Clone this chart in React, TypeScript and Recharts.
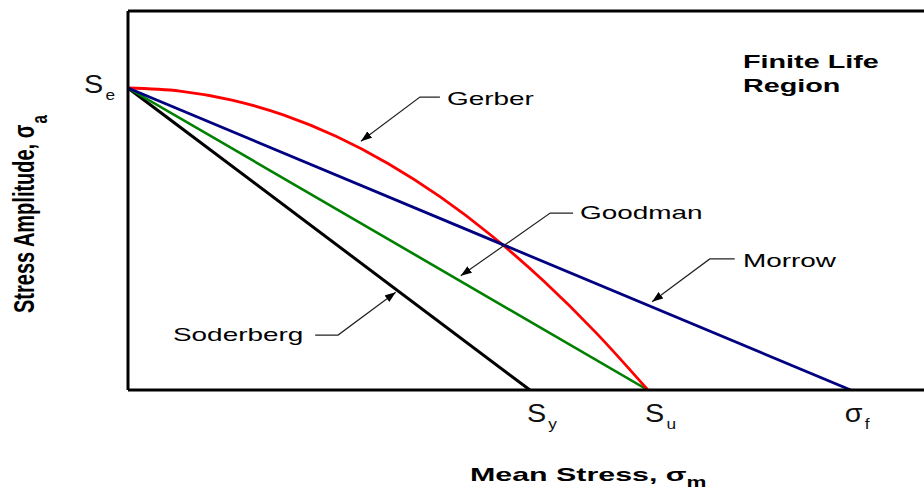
import React from 'react';
import { LineChart, Line, XAxis, YAxis, ReferenceLine, ReferenceDot } from 'recharts';

// Material strengths on the mean-stress / stress-amplitude plane
const SE = 50; // endurance limit
const SY = 77.3; // yield strength
const SU = 100; // ultimate strength
const SF = 139; // true fracture strength
const X_MAX = 153.1;
const Y_MAX = 62.75;

// Gerber parabola
const gerberStress = [0, 10, 20, 30, 40, 50, 60, 70, 80, 90, 100];
const gerberAmplitude = [50, 49.5, 48, 45.5, 42, 37.5, 32, 25.5, 18, 9.5, 0];

// Straight-line criteria
const soderbergStress = [0, SY];
const soderbergAmplitude = [SE, 0];
const goodmanStress = [0, SU];
const goodmanAmplitude = [SE, 0];
const morrowStress = [0, SF];
const morrowAmplitude = [SE, 0];

// Axis tick labels
const xTickValues = [SY, SU, SF];
const xTickMain = ['S', 'S', 'σ'];
const xTickSub = ['y', 'u', 'f'];
const yTickValues = [SE];
const yTickMain = ['S'];
const yTickSub = ['e'];

// Callouts: text anchor and leader (label end -> elbow -> arrow tip)
const calloutNames = ['Gerber', 'Goodman', 'Morrow', 'Soderberg'];
const calloutAnchors: [number, number][] = [
  [61.35, 47.19],
  [86.92, 28.31],
  [118.27, 20.36],
  [8.65, 8.11],
];
const calloutLeaders: [number, number][][] = [
  [[60.0, 48.5], [56.15, 48.5], [44.8, 41.2]],
  [[85.6, 29.3], [81.2, 29.3], [64.0, 18.9]],
  [[116.7, 21.7], [111.9, 21.7], [100.8, 14.6]],
  [[36.0, 9.1], [40.4, 9.1], [51.5, 16.2]],
];
const regionLines = ['Finite Life', 'Region'];
const regionAnchors: [number, number][] = [
  [118.27, 53.31],
  [118.27, 49.34],
];

const toPoints = (xs: number[], ys: number[]) => xs.map((x, i) => ({ x, y: ys[i] }));

const gerberData = toPoints(gerberStress, gerberAmplitude);
const soderbergData = toPoints(soderbergStress, soderbergAmplitude);
const goodmanData = toPoints(goodmanStress, goodmanAmplitude);
const morrowData = toPoints(morrowStress, morrowAmplitude);
const leaderData = calloutLeaders.map((pts) => pts.map(([x, y]) => ({ x, y })));

const FONT = '"Liberation Sans", Arial, Helvetica, sans-serif';

function WideText(props: {
  x: number;
  y: number;
  sx: number;
  size: number;
  bold?: boolean;
  children: React.ReactNode;
}) {
  const { x, y, sx, size, bold, children } = props;
  return (
    <text
      transform={`translate(${x},${y}) scale(${sx},1)`}
      x={0}
      y={0}
      fontFamily={FONT}
      fontSize={size}
      fontWeight={bold ? 'bold' : 'normal'}
      fill="#000"
      textAnchor="start"
    >
      {children}
    </text>
  );
}

// Symbol with a subscript, slightly widened
function SubscriptSymbol(props: { x: number; y: number; main: string; sub: string }) {
  const { x, y, main, sub } = props;
  return (
    <text transform={`translate(${x},${y}) scale(1.15,1)`} fontFamily={FONT} fontSize={25} fill="#111">
      {main}
      <tspan fontSize={15} dx={2} dy={7}>
        {sub}
      </tspan>
    </text>
  );
}

function XTick(props: any) {
  const { x, y, payload } = props;
  const i = xTickValues.indexOf(payload.value);
  if (i < 0) return null;
  const isSigma = xTickMain[i] === 'σ';
  return <SubscriptSymbol x={x + (isSigma ? -6 : -3)} y={y + 32} main={xTickMain[i]} sub={xTickSub[i]} />;
}

function YTick(props: any) {
  const { x, y, payload } = props;
  const i = yTickValues.indexOf(payload.value);
  if (i < 0) return null;
  return <SubscriptSymbol x={x - 44} y={y + 5} main={yTickMain[i]} sub={yTickSub[i]} />;
}

function XTitle(props: any) {
  const vb = props.viewBox;
  return (
    <text
      transform={`translate(${vb.x + 342},${vb.y + 91}) scale(1.6,1)`}
      fontFamily={FONT}
      fontSize={19}
      fontWeight="bold"
      fill="#000"
    >
      Mean Stress, σ
      <tspan fontSize={14} dy={6}>
        m
      </tspan>
    </text>
  );
}

function YTitle(props: any) {
  const vb = props.viewBox;
  return (
    <text
      transform={`translate(${vb.x + 34},${vb.y + 302}) rotate(-90) scale(1,1.45)`}
      fontFamily={FONT}
      fontSize={20}
      fontWeight="bold"
      fill="#000"
    >
      Stress Amplitude, σ
      <tspan fontSize={15} dx={1} dy={9}>
        a
      </tspan>
    </text>
  );
}

export default function App() {
  return (
    <div style={{ position: 'absolute', left: 0, top: 0, width: 924, height: 491, background: '#fff' }}>
      <svg width={0} height={0} style={{ position: 'absolute' }}>
        <defs>
          <marker
            id="leaderArrow"
            viewBox="0 0 11 8"
            refX={11}
            refY={4}
            markerWidth={11}
            markerHeight={8}
            markerUnits="userSpaceOnUse"
            orient="auto"
            preserveAspectRatio="none"
          >
            <path d="M0,0 L11,4 L0,8 z" fill="#000" />
          </marker>
        </defs>
      </svg>
      <LineChart width={924} height={491} margin={{ top: 11, right: 0, bottom: 0, left: 0 }}>
        <XAxis
          type="number"
          dataKey="x"
          domain={[0, X_MAX]}
          allowDataOverflow
          ticks={xTickValues}
          interval={0}
          tick={<XTick />}
          tickLine={false}
          tickSize={0}
          tickMargin={0}
          axisLine={{ stroke: '#000', strokeWidth: 3 }}
          height={101}
          label={<XTitle />}
        />
        <YAxis
          type="number"
          dataKey="y"
          domain={[0, Y_MAX]}
          allowDataOverflow
          ticks={yTickValues}
          interval={0}
          tick={<YTick />}
          tickLine={false}
          tickSize={0}
          tickMargin={0}
          axisLine={{ stroke: '#000', strokeWidth: 3 }}
          width={128}
          label={<YTitle />}
        />
        <ReferenceLine y={Y_MAX} stroke="#000" strokeWidth={3} />

        <Line data={soderbergData} dataKey="y" type="linear" stroke="#000" strokeWidth={3} dot={false} activeDot={false} isAnimationActive={false} />
        <Line data={goodmanData} dataKey="y" type="linear" stroke="#008000" strokeWidth={2.6} dot={false} activeDot={false} isAnimationActive={false} />
        <Line data={gerberData} dataKey="y" type="monotone" stroke="#ff0000" strokeWidth={2.8} dot={false} activeDot={false} isAnimationActive={false} />
        <Line data={morrowData} dataKey="y" type="linear" stroke="#000080" strokeWidth={2.8} dot={false} activeDot={false} isAnimationActive={false} />

        {leaderData.map((pts, i) => (
          <Line
            key={`leader-${calloutNames[i]}`}
            data={pts}
            dataKey="y"
            type="linear"
            stroke="#222"
            strokeWidth={1.2}
            dot={false}
            activeDot={false}
            isAnimationActive={false}
            markerEnd="url(#leaderArrow)"
          />
        ))}

        {calloutNames.map((name, i) => (
          <ReferenceDot
            key={`callout-${name}`}
            x={calloutAnchors[i][0]}
            y={calloutAnchors[i][1]}
            r={0}
            shape={(p: any) => (
              <WideText x={p.cx} y={p.cy} sx={1.47} size={19}>
                {name}
              </WideText>
            )}
          />
        ))}

        {regionLines.map((line, i) => (
          <ReferenceDot
            key={`region-${line}`}
            x={regionAnchors[i][0]}
            y={regionAnchors[i][1]}
            r={0}
            shape={(p: any) => (
              <WideText x={p.cx} y={p.cy} sx={1.6} size={18} bold>
                {line}
              </WideText>
            )}
          />
        ))}
      </LineChart>
    </div>
  );
}
